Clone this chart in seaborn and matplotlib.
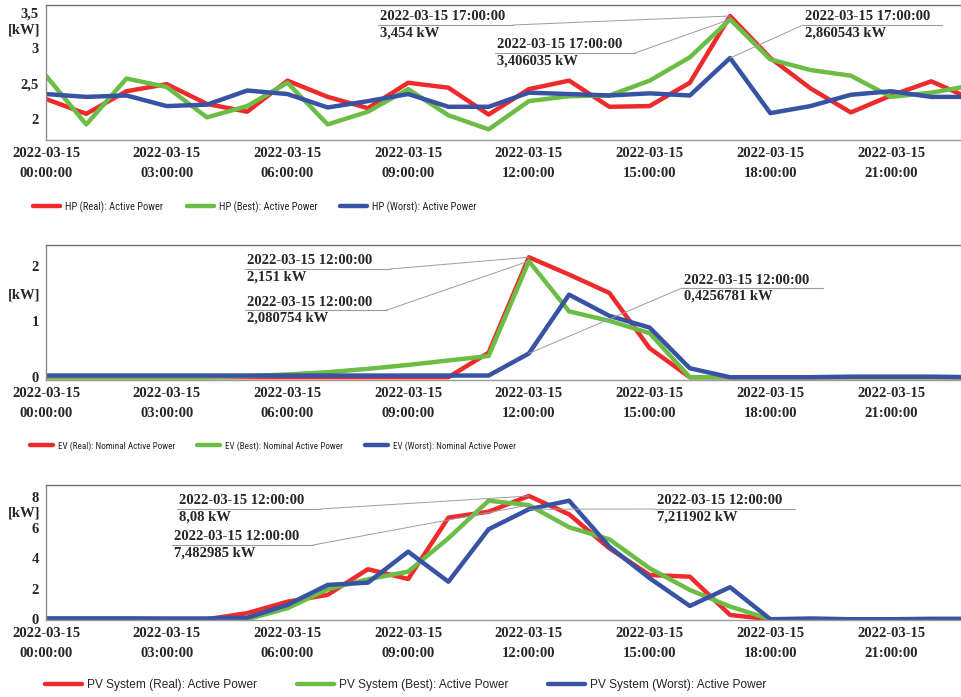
import numpy as np
import pandas as pd
import matplotlib
matplotlib.use("Agg")
import matplotlib.pyplot as plt
from matplotlib.lines import Line2D
from matplotlib.patches import ConnectionPatch
from matplotlib.ticker import FuncFormatter, MultipleLocator, FixedLocator
import seaborn as sns

# ---- data (hourly values, 2022-03-15) ----
hours = list(range(24))
date_label = "2022-03-15"

hp_real = [2.28, 2.07, 2.39, 2.49, 2.21, 2.10, 2.54, 2.31, 2.15, 2.51, 2.44, 2.06,
           2.42, 2.54, 2.17, 2.18, 2.51, 3.454, 2.86, 2.43, 2.09, 2.33, 2.53, 2.28]
hp_best = [2.61, 1.92, 2.57, 2.45, 2.02, 2.18, 2.51, 1.92, 2.10, 2.42, 2.05, 1.85,
           2.25, 2.32, 2.33, 2.54, 2.87, 3.406035, 2.84, 2.69, 2.61, 2.31, 2.37, 2.47]
hp_worst = [2.35, 2.31, 2.33, 2.18, 2.20, 2.40, 2.35, 2.16, 2.25, 2.35, 2.17, 2.17,
            2.37, 2.35, 2.33, 2.36, 2.33, 2.860543, 2.08, 2.18, 2.34, 2.39, 2.31, 2.31]

ev_real = [0, 0, 0, 0, 0, 0, 0, 0, 0, 0, 0, 0.44,
           2.151, 1.84, 1.51, 0.52, 0, 0, 0, 0, 0, 0, 0, 0]
ev_best = [0, 0, 0, 0, 0, 0.02, 0.05, 0.09, 0.15, 0.22, 0.30, 0.38,
           2.080754, 1.18, 1.01, 0.79, 0, 0, 0, 0, 0, 0, 0, 0]
ev_worst = [0.03, 0.03, 0.03, 0.03, 0.03, 0.03, 0.03, 0.03, 0.03, 0.03, 0.03, 0.03,
            0.4256781, 1.48, 1.10, 0.89, 0.16, 0, 0, 0, 0.01, 0.01, 0.01, 0]

pv_real = [0, 0, 0, 0, 0, 0.4, 1.15, 1.6, 3.28, 2.64, 6.66, 7.05,
           8.08, 6.88, 4.65, 2.9, 2.79, 0.28, 0, 0, 0, 0, 0, 0]
pv_best = [0.05, 0.05, 0.05, 0, 0, 0, 0.72, 1.97, 2.62, 3.12, 5.31, 7.77,
           7.482985, 6.03, 5.24, 3.34, 1.92, 0.83, 0, 0, 0, 0, 0, 0]
pv_worst = [0.05, 0.05, 0.05, 0.05, 0.05, 0.1, 0.94, 2.25, 2.4, 4.43, 2.46, 5.9,
            7.211902, 7.77, 4.76, 2.69, 0.87, 2.1, 0, 0.05, 0, 0, 0.03, 0.03]

hp_names = ["HP (Real): Active Power", "HP (Best): Active Power", "HP (Worst): Active Power"]
ev_names = ["EV (Real): Nominal Active Power", "EV (Best): Nominal Active Power",
            "EV (Worst): Nominal Active Power"]
pv_names = ["PV System (Real): Active Power", "PV System (Best): Active Power",
            "PV System (Worst): Active Power"]

colors = ["#ee2a2a", "#6cbd45", "#3953a4"]

# ---- figure ----
sns.set_style("white")
plt.rcParams["font.family"] = ["Liberation Serif", "DejaVu Serif"]

W, H = 962, 697
fig = plt.figure(figsize=(W / 100, H / 100), dpi=100)

X0 = 46.0        # pixel of 00:00
PX_H = 40.24     # pixels per hour


def fx(px):
    return px / W


def fy(py):
    return 1 - py / H


def make_axes(top_px, bottom_px):
    right_px = X0 + 23 * PX_H
    return fig.add_axes([fx(X0), fy(bottom_px), (right_px - X0) / W, (bottom_px - top_px) / H])


serif_bold = dict(family=["Liberation Serif", "DejaVu Serif"], weight="bold", size=10.5)
comma_fmt = FuncFormatter(lambda v, p: f"{v:g}".replace(".", ","))


def draw_panel(ax, series, names, ylim, major, minor, yticks=None):
    frames = []
    for vals, name in zip(series, names):
        frames.append(pd.DataFrame({"hour": hours, "kW": vals, "series": name}))
    df = pd.concat(frames, ignore_index=True)
    sns.lineplot(data=df, x="hour", y="kW", hue="series", hue_order=names,
                 palette=colors, linewidth=3.2, ax=ax, legend=False, sort=True)
    ax.set_xlim(0, 23)
    ax.set_ylim(*ylim)
    ax.set_xlabel("")
    ax.set_ylabel("")
    if yticks is not None:
        ax.yaxis.set_major_locator(FixedLocator(yticks))
    else:
        ax.yaxis.set_major_locator(MultipleLocator(major))
    ax.yaxis.set_minor_locator(MultipleLocator(minor))
    ax.yaxis.set_major_formatter(comma_fmt)
    ax.xaxis.set_major_locator(FixedLocator(list(range(0, 24, 3))))
    ax.xaxis.set_minor_locator(FixedLocator(hours))
    ax.set_xticklabels([f"{date_label}\n{h:02d}:00:00" for h in range(0, 24, 3)])
    ax.tick_params(axis="both", which="both", direction="in", color="#c8c8c8")
    ax.tick_params(axis="y", which="major", length=6, pad=5)
    ax.tick_params(axis="y", which="minor", length=5)
    ax.tick_params(axis="x", which="both", length=6, pad=5)
    for lab in ax.get_xticklabels() + ax.get_yticklabels():
        lab.set_fontproperties(matplotlib.font_manager.FontProperties(**serif_bold))
    for lab in ax.get_xticklabels():
        lab.set_linespacing(1.75)
    ax.spines["top"].set_color("#6e6e6e")
    ax.spines["left"].set_color("#8a8a8a")
    ax.spines["bottom"].set_color("#9a9a9a")
    ax.spines["right"].set_visible(False)
    for s in ax.spines.values():
        s.set_linewidth(1.0)
    ax.set_facecolor("white")


def callout(ax, hour, value, when, text, x0, x1, yline, attach="right"):
    # underline under the timestamp, value below it, thin leader to the point
    fig.add_artist(Line2D([fx(x0), fx(x1)], [fy(yline), fy(yline)],
                          transform=fig.transFigure, color="#9c9c9c", lw=0.8))
    fig.text(fx(x0 + 2), fy(yline - 1.5), when, ha="left", va="bottom", **serif_bold)
    fig.text(fx(x0 + 2), fy(yline + 1.5), text, ha="left", va="top", **serif_bold)
    start = x1 if attach == "right" else x0
    con = ConnectionPatch(xyA=(fx(start), fy(yline)), coordsA=fig.transFigure,
                          xyB=(hour, value), coordsB=ax.transData,
                          color="#9c9c9c", lw=0.7)
    fig.add_artist(con)


def legend_row(names, xs, y, size, handle_px, family):
    prop = matplotlib.font_manager.FontProperties(family=family, size=size)
    em_px = size * 100 / 72
    for name, col, x in zip(names, colors, xs):
        h = Line2D([], [], color=col, lw=3.2, solid_capstyle="round")
        fig.legend(handles=[h], labels=[name], loc="center left",
                   bbox_to_anchor=(fx(x), fy(y)), bbox_transform=fig.transFigure,
                   frameon=False, borderpad=0, borderaxespad=0,
                   handlelength=handle_px / em_px, handletextpad=5 / em_px, prop=prop)


def unit_label(ypx):
    fig.text(fx(40), fy(ypx), "[kW]", ha="right", va="center", **serif_bold)


sans = ["Liberation Sans", "DejaVu Sans"]
condensed = ["Roboto Condensed", "Liberation Sans", "DejaVu Sans"]

# ---- heat pump ----
ax1 = make_axes(5, 140)
draw_panel(ax1, [hp_real, hp_best, hp_worst], hp_names, (1.70, 3.61), 0.5, 0.125,
           yticks=[2, 2.5, 3, 3.5])
unit_label(30)
callout(ax1, 17, hp_real[17], "2022-03-15 17:00:00", "3,454 kW", 378, 513, 25, "right")
callout(ax1, 17, hp_best[17], "2022-03-15 17:00:00", "3,406035 kW", 495, 635, 53, "right")
callout(ax1, 17, hp_worst[17], "2022-03-15 17:00:00", "2,860543 kW", 803, 942, 25, "left")
legend_row(hp_names, [33, 187, 340], 207, 7.6, 27, condensed)

# ---- electric vehicle ----
ax2 = make_axes(245, 380)
draw_panel(ax2, [ev_real, ev_best, ev_worst], ev_names, (-0.05, 2.37), 1, 0.2)
unit_label(295)
callout(ax2, 12, ev_real[12], "2022-03-15 12:00:00", "2,151 kW", 245, 390, 269, "right")
callout(ax2, 12, ev_best[12], "2022-03-15 12:00:00", "2,080754 kW", 245, 387, 310, "right")
callout(ax2, 12, ev_worst[12], "2022-03-15 12:00:00", "0,4256781 kW", 682, 823, 288, "left")
legend_row(ev_names, [30, 197, 365], 446, 6.6, 23, condensed)

# ---- PV system ----
ax3 = make_axes(485, 620)
draw_panel(ax3, [pv_real, pv_best, pv_worst], pv_names, (-0.05, 8.8), 2, 0.5)
unit_label(513)
callout(ax3, 12, pv_real[12], "2022-03-15 12:00:00", "8,08 kW", 177, 320, 509, "right")
callout(ax3, 12, pv_best[12], "2022-03-15 12:00:00", "7,482985 kW", 172, 313, 545, "right")
callout(ax3, 12, pv_worst[12], "2022-03-15 12:00:00", "7,211902 kW", 655, 795, 509, "left")
legend_row(pv_names, [45, 297, 548], 685, 8.6, 37, sans)

fig.savefig("out.png", dpi=100, facecolor="white")
